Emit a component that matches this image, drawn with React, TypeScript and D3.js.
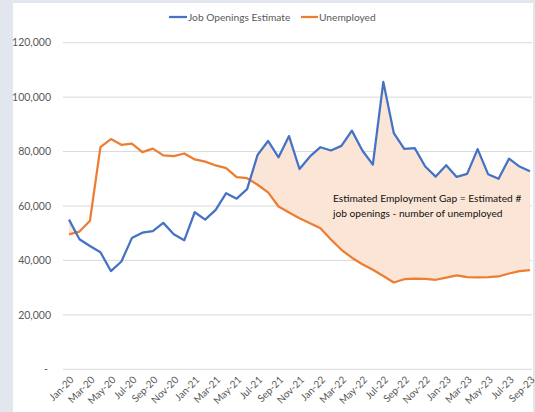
import React from "react";
import * as d3 from "d3";

const months = [
  "Jan-20", "Feb-20", "Mar-20", "Apr-20", "May-20", "Jun-20", "Jul-20", "Aug-20", "Sep-20", "Oct-20", "Nov-20", "Dec-20",
  "Jan-21", "Feb-21", "Mar-21", "Apr-21", "May-21", "Jun-21", "Jul-21", "Aug-21", "Sep-21", "Oct-21", "Nov-21", "Dec-21",
  "Jan-22", "Feb-22", "Mar-22", "Apr-22", "May-22", "Jun-22", "Jul-22", "Aug-22", "Sep-22", "Oct-22", "Nov-22", "Dec-22",
  "Jan-23", "Feb-23", "Mar-23", "Apr-23", "May-23", "Jun-23", "Jul-23", "Aug-23", "Sep-23",
];

const jobOpenings = [
  55000, 47800, 45300, 43000, 36100, 39600, 48200, 50200, 50800, 53800, 49600, 47400,
  57700, 55000, 58600, 64700, 62700, 66200, 78800, 83900, 77900, 85700, 73600, 78200,
  81600, 80400, 82100, 87700, 80400, 75200, 105600, 86800, 81000, 81250, 74500, 70800,
  75000, 70700, 71800, 80900, 71700, 70000, 77400, 74500, 72800,
];

const unemployed = [
  49600, 50600, 54600, 81600, 84600, 82500, 82900, 79800, 81100, 78600, 78300, 79300,
  77100, 76300, 74900, 73900, 70600, 70200, 67800, 65000, 59800, 57600, 55500, 53700,
  51800, 47700, 43900, 41000, 38600, 36600, 34300, 31900, 33100, 33300, 33200, 32900,
  33700, 34500, 33900, 33800, 33900, 34100, 35200, 36100, 36400,
];

const yTicks = [0, 20000, 40000, 60000, 80000, 100000, 120000];
const seriesNames = ["Job Openings Estimate", "Unemployed"];
const annotation = ["Estimated Employment Gap = Estimated #", "job openings - number of unemployed"];

const W = 535;
const H = 412;
const BLUE = "#4472C4";
const ORANGE = "#ED7D31";
const FONT = "Lato, 'Open Sans', sans-serif";

export default function App() {
  const x = d3.scalePoint<string>().domain(months).range([69, 530]);
  const y = d3.scaleLinear().domain([0, 120000]).range([369.3, 42.7]);
  const gridLeft = 63;
  const gridRight = 532;

  const idx = months.map((_, i) => i);
  const line = (vals: number[]) =>
    d3.line<number>().x((i) => x(months[i])!).y((i) => y(vals[i]))(idx)!;

  // gap shading: area under the blue line, clipped to what lies above the orange line
  const underBlue = d3
    .area<number>()
    .x((i) => x(months[i])!)
    .y0(y(0))
    .y1((i) => y(jobOpenings[i]))(idx)!;
  const aboveOrange = d3
    .area<number>()
    .x((i) => x(months[i])!)
    .y0(y(120000) - 20)
    .y1((i) => y(unemployed[i]))(idx)!;

  const fmt = d3.format(",");

  return (
    <svg width={W} height={H} style={{ position: "absolute", left: 0, top: 0 }} fontFamily={FONT}>
      <style>{`body{margin:0}`}</style>
      <rect width={W} height={H} fill="#E2E6EE" />
      <rect x={13} y={3} width={520} height={H - 3} fill="#ffffff" />

      <defs>
        <clipPath id="aboveOrange">
          <path d={aboveOrange} />
        </clipPath>
      </defs>

      {yTicks.map((t) => (
        <g key={t}>
          <line x1={gridLeft} x2={gridRight} y1={y(t)} y2={y(t)} stroke="#D9D9D9" strokeWidth={1} />
          <text
            x={t === 0 ? 48 : 51}
            y={y(t)}
            dy="0.35em"
            textAnchor="end"
            fontSize={10.5}
            fill="#595959"
          >
            {t === 0 ? "-" : fmt(t)}
          </text>
        </g>
      ))}

      <path d={underBlue} fill="#FBE5D6" clipPath="url(#aboveOrange)" />

      <path d={line(unemployed)} fill="none" stroke={ORANGE} strokeWidth={2.25} strokeLinejoin="round" />
      <path d={line(jobOpenings)} fill="none" stroke={BLUE} strokeWidth={2.25} strokeLinejoin="round" />

      {months
        .filter((_, i) => i % 2 === 0)
        .map((m) => (
          <text
            key={m}
            transform={`translate(${x(m)! + 3},${378}) rotate(-45)`}
            textAnchor="end"
            dy="0.35em"
            fontSize={10}
            fill="#595959"
          >
            {m}
          </text>
        ))}

      {annotation.map((s, i) => (
        <text key={s} x={333} y={201.5 + i * 15} fontSize={10.2} fill="#111">
          {s}
        </text>
      ))}

      <g fontSize={10.2} fill="#595959">
        <line x1={169} x2={187} y1={17} y2={17} stroke={BLUE} strokeWidth={2.25} />
        <text x={188} y={17} dy="0.35em">{seriesNames[0]}</text>
        <line x1={301} x2={318} y1={17} y2={17} stroke={ORANGE} strokeWidth={2.25} />
        <text x={319} y={17} dy="0.35em">{seriesNames[1]}</text>
      </g>
    </svg>
  );
}
